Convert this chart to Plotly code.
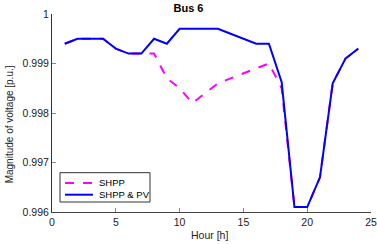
import plotly.graph_objects as go

hours = list(range(1, 25))
shpp = [0.9994, 0.9995, 0.9995, 0.9995, 0.9993, 0.9992, 0.9992, 0.9992, 0.9987, 0.9985,
        0.9982, 0.9984, 0.9986, 0.9987, 0.9988, 0.9989, 0.9990, 0.9985, 0.9961, 0.9961,
        0.9967, 0.9986, 0.9991, 0.9993]
shpp_pv = [0.9994, 0.9995, 0.9995, 0.9995, 0.9993, 0.9992, 0.9992, 0.9995, 0.9994, 0.9997,
           0.9997, 0.9997, 0.9997, 0.9996, 0.9995, 0.9994, 0.9994, 0.99862, 0.9961, 0.9961,
           0.9967, 0.9986, 0.9991, 0.9993]
x_ticks = [0, 5, 10, 15, 20, 25]
y_ticks = [0.996, 0.997, 0.998, 0.999, 1.0]
y_ticktext = ["0.996", "0.997", "0.998", "0.999", "1"]
series_names = ["SHPP", "SHPP & PV"]
series_colors = ["#ff00ff", "#0000ff"]
series_dash = ["dash", "solid"]
x_title = "Hour [h]"
y_title = "Magnitude of voltage [p.u.]"
chart_title = "Bus 6"

font = "Liberation Sans, Arial, sans-serif"

fig = go.Figure()
for name, ys, col, dsh in zip(series_names, [shpp, shpp_pv], series_colors, series_dash):
    fig.add_trace(go.Scatter(x=hours, y=ys, mode="lines", name=name, showlegend=False,
                             line=dict(color=col, width=2, dash=dsh)))

# legend drawn as a boxed key (paper coordinates)
shapes = [dict(type="rect", xref="paper", yref="paper", x0=0.0251, x1=0.3072,
               y0=0.0505, y1=0.1985, line=dict(color="#333", width=1), fillcolor="white",
               layer="above")]
annotations = []
row_y = [0.1465, 0.0874]
for name, col, dsh, yy in zip(series_names, series_colors, series_dash, row_y):
    shapes.append(dict(type="line", xref="paper", yref="paper", x0=0.0408, x1=0.1285,
                       y0=yy, y1=yy, line=dict(color=col, width=2, dash=dsh), layer="above"))
    annotations.append(dict(text=name, xref="paper", yref="paper", x=0.140, y=yy,
                            xanchor="left", yanchor="middle", showarrow=False,
                            font=dict(size=9.5, color="black")))

# axis titles
annotations.append(dict(text=x_title, xref="paper", yref="paper", x=0.495, y=-0.116,
                        xanchor="center", yanchor="middle", showarrow=False,
                        font=dict(size=10.5, color="#222")))
annotations.append(dict(text=y_title, xref="paper", yref="paper", x=-0.134, y=0.444,
                        xanchor="center", yanchor="middle", showarrow=False, textangle=-90,
                        font=dict(size=10, color="#222")))

fig.update_layout(
    width=377, height=244,
    margin=dict(l=52, r=6, t=14, b=32, autoexpand=False),
    paper_bgcolor="white", plot_bgcolor="white",
    font=dict(family=font, size=10.5, color="#222"),
    title=dict(text="<b>" + chart_title + "</b>", x=0.5, xanchor="center", y=0.965,
               yanchor="middle", font=dict(size=11, color="black")),
    shapes=shapes, annotations=annotations,
    showlegend=False,
)
fig.update_xaxes(range=[0, 25], tickvals=x_ticks, ticks="inside", ticklen=4,
                 tickcolor="#888", showline=True, linecolor="#444", linewidth=1,
                 showgrid=False, zeroline=False, mirror=False, automargin=False)
fig.update_yaxes(range=[0.996, 1.0], tickvals=y_ticks, ticktext=y_ticktext,
                 ticks="inside", ticklen=4, tickcolor="#888", automargin=False,
                 showline=True, linecolor="#333", linewidth=1,
                 showgrid=False, zeroline=False)

fig.write_html("out.html", config={"displayModeBar": False},
               post_script="document.body.style.margin='0';")
